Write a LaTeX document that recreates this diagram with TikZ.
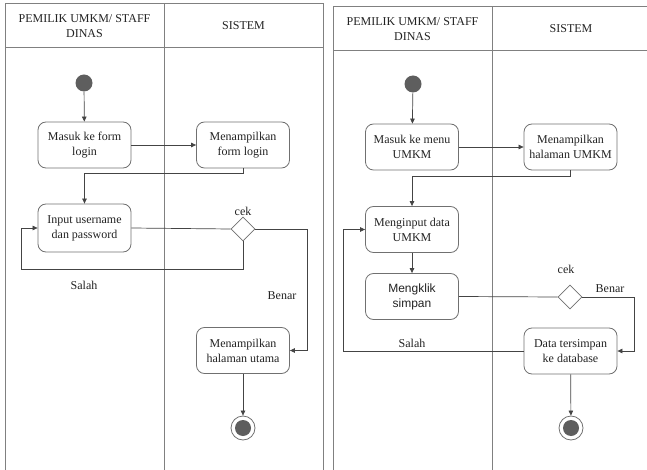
\documentclass[tikz,border=0pt]{standalone}
\usepackage{fontspec}
\setmainfont{Liberation Serif}
\newfontfamily\sansf{Liberation Sans}
\usetikzlibrary{arrows.meta,shapes.geometric}
\definecolor{framec}{HTML}{808080}
\definecolor{boxc}{HTML}{707070}
\definecolor{linec}{HTML}{444444}
\definecolor{dotc}{HTML}{5E5E5E}
\definecolor{txtc}{HTML}{222222}
\tikzset{
  frameline/.style={draw=framec, line width=1pt},
  act/.style={draw=boxc, line width=0.8pt, rounded corners=8pt, minimum width=93pt, minimum height=46pt, align=center, inner sep=1pt, font=\fontsize{12}{15}\selectfont, text=txtc},
  dec/.style={draw=boxc, line width=0.8pt, diamond, aspect=1, minimum size=24pt, inner sep=0pt},
  startc/.style={circle, fill=dotc, minimum size=17pt, inner sep=0pt},
  endc/.style={circle, draw=boxc, line width=0.8pt, minimum size=24pt, inner sep=0pt,
    path picture={\fill[dotc] (path picture bounding box.center) circle (8pt);}},
  flow/.style={draw=linec, line width=0.7pt},
  arr/.style={flow, -{Triangle[length=5pt,width=4.5pt]}},
  lbl/.style={font=\fontsize{12}{15}\selectfont, text=txtc, inner sep=0pt},
  hdr/.style={font=\fontsize{12}{15}\selectfont, text=txtc, align=center, inner sep=0pt}
}
\begin{document}
\begin{tikzpicture}[x=1pt,y=-1pt]
\useasboundingbox (0,0) rectangle (647,470);
% ---------- left frame ----------
\draw[frameline] (5,472) -- (5,4) -- (323,4) -- (323,472);
\draw[frameline] (5,48) -- (323,48);
\draw[frameline] (164,4) -- (164,472);
\node[hdr] (h1) at (84.5,26) {PEMILIK UMKM/ STAFF\\DINAS};
\node[hdr] (h2) at (243.5,26) {SISTEM};
% ---------- right frame ----------
\draw[frameline] (333,472) -- (333,7) -- (650,7);
\draw[frameline] (333,51) -- (650,51);
\draw[frameline] (492,7) -- (492,472);
\node[hdr] (h3) at (412.5,29) {PEMILIK UMKM/ STAFF\\DINAS};
\node[hdr] (h4) at (571,29) {SISTEM};
% ---------- left diagram ----------
\node[startc] (s1) at (84,83) {};
\node[act] (a1) at (84.5,145) {Masuk ke form\\login};
\node[act] (a2) at (243,145) {Menampilkan\\form login};
\node[act, minimum height=48pt] (a3) at (84.5,228) {Input username\\dan password};
\node[dec] (d1) at (243,229) {};
\node[act] (a4) at (243,350.5) {Menampilkan\\halaman utama};
\node[endc] (e1) at (243,428) {};
\coordinate (c1) at (307,229);
\coordinate (c2) at (21,269);
\draw[arr] (s1) -- (a1);
\draw[arr] (a1.east) -- (a2.west);
\draw[arr] (a2.south) -- ++(0,5) -| (a3.north);
\draw[flow] (a3.east) -- (d1.west);
\draw[arr] (d1.east) -- (c1) |- (a4.east);
\draw[arr] (d1.south) |- (c2) |- (a3.west);
\draw[arr] (a4) -- (e1);
\node[lbl] (l1) at (243,211) {cek};
\node[lbl] (l2) at (84,285) {Salah};
\node[lbl] (l3) at (282,296) {Benar};
% ---------- right diagram ----------
\node[startc] (s2) at (413,84) {};
\node[act] (b1) at (412,147) {Masuk ke menu\\UMKM};
\node[act] (b2) at (570.5,147) {Menampilkan\\halaman UMKM};
\node[act] (b3) at (412,229.5) {Menginput data\\UMKM};
\node[act, font=\sansf\fontsize{12}{15}\selectfont] (b4) at (412,296.5) {Mengklik\\simpan};
\node[dec] (d2) at (570,297) {};
\node[act] (b5) at (570.5,351) {Data tersimpan\\ke database};
\node[endc] (e2) at (571,428) {};
\coordinate (c3) at (634,297);
\coordinate (c4) at (343,351);
\draw[arr] (s2) -- (b1);
\draw[arr] (b1.east) -- (b2.west);
\draw[arr] (b2.south) -- ++(0,6) -| (b3.north);
\draw[arr] (b3) -- (b4);
\draw[flow] (b4.east) -- (d2.west);
\draw[arr] (d2.east) -- (c3) |- (b5.east);
\draw[arr] (b5.west) -- (c4) |- (b3.west);
\draw[arr] (b5) -- (e2);
\node[lbl] (l4) at (566,269) {cek};
\node[lbl] (l5) at (610,289) {Benar};
\node[lbl] (l6) at (412,343) {Salah};
\end{tikzpicture}
\end{document}
